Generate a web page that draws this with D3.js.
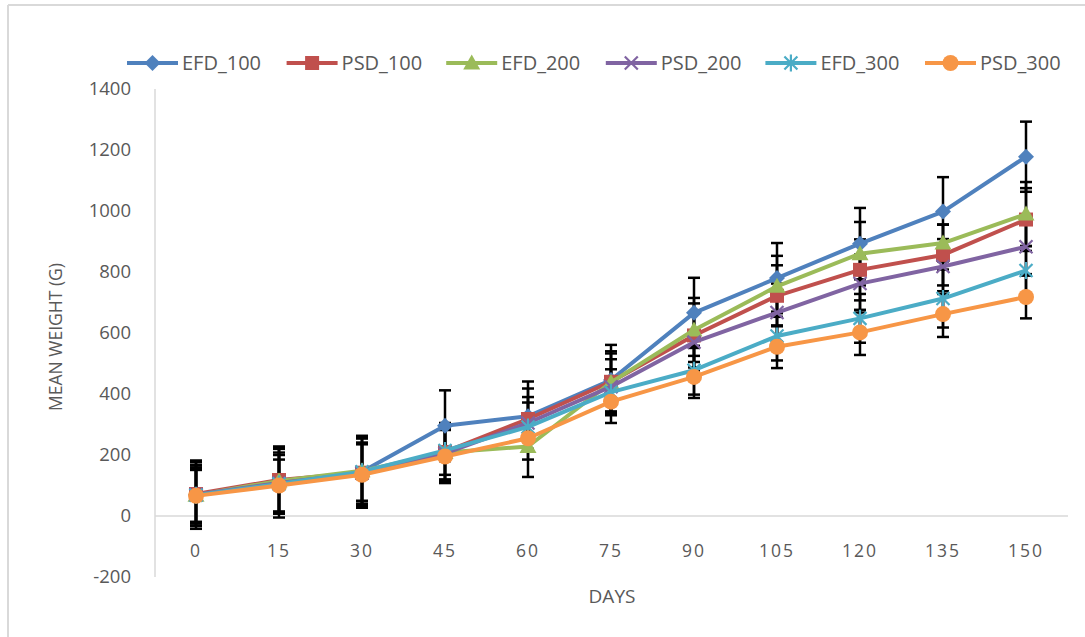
<!DOCTYPE html>
<html><head><meta charset="utf-8">
<script src="https://cdn.jsdelivr.net/npm/d3@7"></script>
<style>body{margin:0;background:#fff}svg{display:block}text{font-family:"Open Sans",sans-serif;fill:#595959}</style>
</head><body><svg id="c" width="1085" height="637"></svg>
<script>
const days = [0, 15, 30, 45, 60, 75, 90, 105, 120, 135, 150];
const seriesNames = ["EFD_100", "PSD_100", "EFD_200", "PSD_200", "EFD_300", "PSD_300"];
const EFD_100 = [70, 110, 145, 296, 327, 446, 666, 780, 893, 998, 1178];
const PSD_100 = [72, 118, 142, 210, 318, 440, 592, 722, 807, 856, 972];
const EFD_200 = [68, 115, 148, 208, 228, 438, 610, 753, 860, 895, 990];
const PSD_200 = [70, 108, 140, 205, 305, 424, 570, 667, 762, 818, 883];
const EFD_300 = [68, 105, 145, 215, 292, 406, 478, 590, 648, 713, 805];
const PSD_300 = [66, 100, 135, 195, 255, 375, 456, 555, 602, 662, 718];
const ERR_EFD_100 = [112, 115, 118, 116, 114, 115, 115, 115, 117, 113, 115];
const ERR_PSD_100 = [105, 110, 112, 95, 100, 100, 105, 100, 100, 100, 103];
const ERR_EFD_200 = [100, 105, 108, 90, 100, 95, 105, 100, 104, 60, 105];
const ERR_PSD_200 = [95, 100, 100, 85, 85, 90, 95, 95, 95, 90, 90];
const ERR_EFD_300 = [90, 95, 95, 80, 80, 75, 80, 80, 80, 95, 80];
const ERR_PSD_300 = [85, 85, 100, 87, 70, 70, 69, 70, 74, 75, 70];
const yTicks = [-200, 0, 200, 400, 600, 800, 1000, 1200, 1400];
const colors = ["#4f81bd", "#c0504d", "#9bbb59", "#8064a2", "#4bacc6", "#f79646"];
const markers = ["diamond", "square", "triangle", "x", "star", "circle"];

const values = [EFD_100, PSD_100, EFD_200, PSD_200, EFD_300, PSD_300];
const errs = [ERR_EFD_100, ERR_PSD_100, ERR_EFD_200, ERR_PSD_200, ERR_EFD_300, ERR_PSD_300];
const series = seriesNames.map((n, i) => ({name: n, color: colors[i], marker: markers[i],
  pts: days.map((d, j) => ({d, v: values[i][j], e: errs[i][j]}))}));

const svg = d3.select("#c");
// outer frame
svg.append("line").attr("x1", 8).attr("x2", 1085).attr("y1", 5).attr("y2", 5).attr("stroke", "#d9d9d9").attr("stroke-width", 2);
svg.append("line").attr("x1", 8).attr("x2", 8).attr("y1", 5).attr("y2", 637).attr("stroke", "#d9d9d9").attr("stroke-width", 2);

const x = d3.scalePoint().domain(days).range([196, 1026]);
const y = d3.scaleLinear().domain([-200, 1400]).range([577, 89]);

// y axis
svg.append("line").attr("x1", 155).attr("x2", 155).attr("y1", y(1400)).attr("y2", y(-200)).attr("stroke", "#d9d9d9").attr("stroke-width", 1.5);
svg.append("line").attr("x1", 155).attr("x2", 1068).attr("y1", y(0)).attr("y2", y(0)).attr("stroke", "#d9d9d9").attr("stroke-width", 1.5);
svg.selectAll(".yt").data(yTicks).enter().append("text")
  .attr("x", 131).attr("y", d => y(d)).attr("dy", "0.35em").attr("text-anchor", "end")
  .style("font-size", "18.5px").text(d => d);
svg.selectAll(".xt").data(days).enter().append("text")
  .attr("x", d => x(d)).attr("y", 551).attr("dy", "0.35em").attr("text-anchor", "middle")
  .style("font-size", "17.5px").style("letter-spacing", "2px").text(d => d);
svg.append("text").attr("x", 612).attr("y", 596).attr("dy", "0.35em").attr("text-anchor", "middle")
  .style("font-size", "19px").text("DAYS");
svg.append("text").attr("transform", "translate(56,337) rotate(-90)").attr("dy", "0.35em").attr("text-anchor", "middle")
  .style("font-size", "17.5px").text("MEAN WEIGHT (G)");

function markerPath(m) {
  switch (m) {
    case "diamond": return "M0,-8L8,0L0,8L-8,0Z";
    case "square": return "M-7,-7H7V7H-7Z";
    case "triangle": return "M0,-8.5L8.5,6.5H-8.5Z";
    case "x": return "M-6.5,-6.5L6.5,6.5M-6.5,6.5L6.5,-6.5";
    case "star": return "M-6.5,-6.5L6.5,6.5M-6.5,6.5L6.5,-6.5M0,-8.5V8.5";
    case "circle": return "M8,0A8,8 0 1,1 -8,0A8,8 0 1,1 8,0Z";
  }
}
function drawMarker(g, s, cx, cy) {
  const stroked = s.marker === "x" || s.marker === "star";
  g.append("path").attr("transform", `translate(${cx},${cy})`).attr("d", markerPath(s.marker))
    .attr("fill", stroked ? "none" : s.color).attr("stroke", stroked ? s.color : "none")
    .attr("stroke-width", 2.2);
}

// error bars
const eg = svg.append("g");
series.forEach(s => {
  s.pts.forEach(p => {
    const cx = x(p.d), t = y(p.v + p.e), b = y(p.v - p.e);
    eg.append("line").attr("x1", cx).attr("x2", cx).attr("y1", t).attr("y2", b).attr("stroke", "#000").attr("stroke-width", 2.5);
    [t, b].forEach(yy => eg.append("line").attr("x1", cx - 6).attr("x2", cx + 6).attr("y1", yy).attr("y2", yy).attr("stroke", "#000").attr("stroke-width", 2.5));
  });
});

const line = d3.line().x(p => x(p.d)).y(p => y(p.v));
series.forEach(s => {
  const g = svg.append("g");
  g.append("path").attr("d", line(s.pts)).attr("fill", "none").attr("stroke", s.color).attr("stroke-width", 4).attr("stroke-linejoin", "round");
  s.pts.forEach(p => drawMarker(g, s, x(p.d), y(p.v)));
});

// legend
const lx = d3.scalePoint().domain(seriesNames).range([127, 925]);
series.forEach(s => {
  const g = svg.append("g").attr("transform", `translate(${lx(s.name)},63)`);
  g.append("line").attr("x1", 0).attr("x2", 51).attr("stroke", s.color).attr("stroke-width", 4);
  drawMarker(g, s, 25.5, 0);
  g.append("text").attr("x", 55).attr("dy", "0.35em").style("font-size", "20px").text(s.name);
});
</script></body></html>
